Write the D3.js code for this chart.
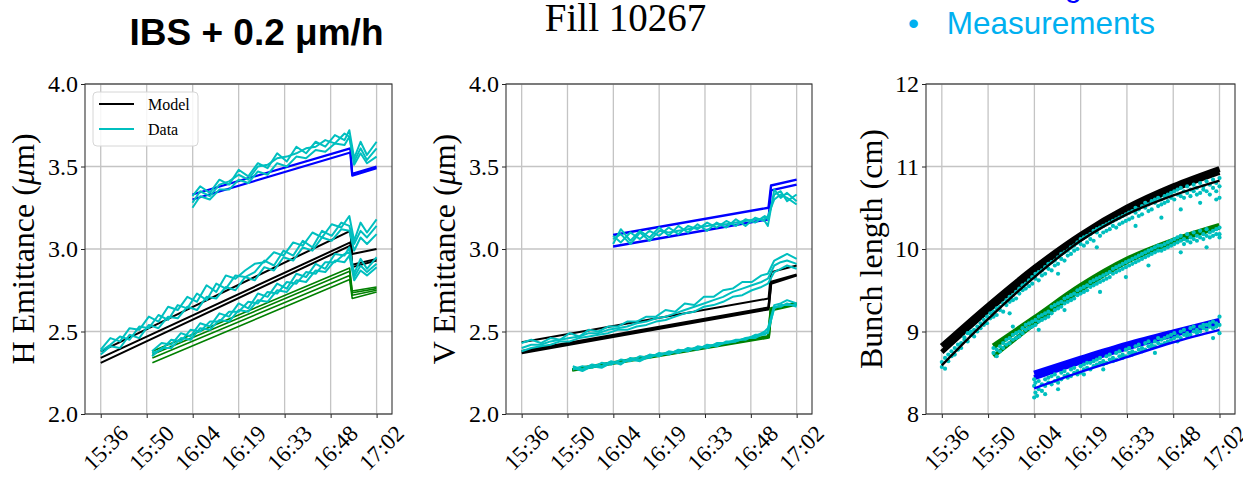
<!DOCTYPE html>
<html><head><meta charset="utf-8">
<script src="https://cdn.jsdelivr.net/npm/d3@7"></script>
<style>body{margin:0;background:#fff}svg{display:block}</style>
</head><body><svg id="c" width="1243" height="483"></svg>
<script>
// ---------- axes / tick data (time in minutes after 15:00) ----------
const timeTicks = [36, 50.33, 64.67, 79, 93.33, 107.67, 122];
const timeTickLabels = ["15:36","15:50","16:04","16:19","16:33","16:48","17:02"];
const emitTicks = [2.0, 2.5, 3.0, 3.5, 4.0];
const bunchTicks = [8, 9, 10, 11, 12];

// ---------- H emittance: model ----------
const hModelK1 = [[36,2.38],[113.8,3.11],[114.4,2.97],[122,3.00]];
const hModelK2 = [[36,2.34],[113.8,3.04],[114.4,2.905],[122,2.94]];
const hModelK3 = [[36,2.31],[113.8,3.02],[114.4,2.89],[122,2.93]];
const hModelG1 = [[52.1,2.38],[113.6,2.885],[114.4,2.745],[122,2.77]];
const hModelG2 = [[52.1,2.36],[113.6,2.865],[114.4,2.735],[122,2.76]];
const hModelG3 = [[52.1,2.34],[113.6,2.84],[114.4,2.72],[122,2.75]];
const hModelG4 = [[52.1,2.31],[113.6,2.815],[114.4,2.70],[122,2.74]];
const hModelB1 = [[64.6,3.33],[113.8,3.61],[114.4,3.455],[122,3.50]];
const hModelB2 = [[64.6,3.30],[113.8,3.585],[114.4,3.445],[122,3.49]];

// ---------- H emittance: data ----------
const hTimesK = [36,39,42,45,48,51,54,57,60,63,66,69,72,75,78,81,84,87,90,93,96,99,102,105,108,111,113.5,115,117,119,122];
const hDataK1 = [2.39,2.46,2.44,2.52,2.51,2.59,2.56,2.65,2.63,2.71,2.68,2.78,2.74,2.84,2.82,2.87,2.91,2.92,2.98,2.96,3.04,3.02,3.10,3.07,3.15,3.13,3.20,3.05,3.16,3.10,3.18];
const hDataK2 = [2.38,2.42,2.47,2.45,2.53,2.52,2.60,2.57,2.66,2.64,2.73,2.69,2.79,2.76,2.84,2.83,2.86,2.93,2.90,2.99,2.96,3.05,3.01,3.11,3.08,3.16,3.14,3.03,3.11,3.07,3.14];
const hDataK3 = [2.36,2.41,2.40,2.48,2.46,2.54,2.52,2.59,2.58,2.65,2.63,2.71,2.70,2.77,2.75,2.83,2.81,2.89,2.87,2.95,2.93,3.01,2.99,3.07,3.05,3.12,3.11,2.99,3.07,3.03,3.09];
const hTimesG = [52,55,58,61,64,67,70,73,76,79,82,85,88,91,94,97,100,103,106,109,112,113.5,115,117,119,122];
const hDataG1 = [2.38,2.43,2.42,2.49,2.47,2.55,2.53,2.61,2.59,2.67,2.64,2.73,2.71,2.79,2.76,2.85,2.83,2.91,2.88,2.97,2.96,3.01,2.85,2.94,2.88,2.95];
const hDataG2 = [2.37,2.39,2.45,2.44,2.51,2.50,2.56,2.56,2.62,2.62,2.68,2.67,2.74,2.73,2.80,2.79,2.86,2.85,2.92,2.92,2.97,2.98,2.83,2.90,2.86,2.91];
const hDataG3 = [2.35,2.40,2.40,2.46,2.45,2.52,2.51,2.57,2.56,2.63,2.62,2.69,2.68,2.75,2.74,2.81,2.80,2.87,2.86,2.93,2.92,2.96,2.81,2.87,2.84,2.89];
const hTimesB = [64.6,67,70,73,76,79,82,85,88,91,94,97,100,103,106,109,112,113.5,115,117,119,122];
const hDataB1 = [3.32,3.38,3.34,3.42,3.39,3.48,3.44,3.52,3.49,3.58,3.53,3.62,3.58,3.65,3.62,3.69,3.66,3.72,3.55,3.65,3.57,3.65];
const hDataB2 = [3.28,3.35,3.32,3.39,3.41,3.45,3.42,3.50,3.51,3.55,3.56,3.58,3.61,3.62,3.66,3.64,3.70,3.68,3.53,3.61,3.54,3.61];
const hDataB3 = [3.25,3.32,3.30,3.36,3.36,3.42,3.40,3.47,3.45,3.52,3.50,3.56,3.55,3.60,3.59,3.64,3.63,3.68,3.51,3.58,3.52,3.56];

// ---------- V emittance: model ----------
const vModelB1 = [[64.6,3.085],[113.2,3.25],[114.0,3.385],[122,3.42]];
const vModelB2 = [[64.6,3.015],[113.2,3.18],[114.0,3.355],[122,3.39]];
const vModelK1 = [[36,2.435],[113.2,2.70],[114.0,2.86],[122,2.90]];
const vModelK2 = [[36,2.38],[113.2,2.645],[114.0,2.80],[122,2.845]];
const vModelK3 = [[36,2.37],[113.2,2.635],[114.0,2.79],[122,2.84]];
const vModelG1 = [[51.8,2.265],[113.2,2.465],[114.0,2.63],[122,2.665]];
const vModelG2 = [[51.8,2.27],[113.2,2.47],[114.0,2.64],[122,2.67]];

// ---------- V emittance: data ----------
const vTimesK = [36,39,42,45,48,51,54,57,60,63,66,69,72,75,78,81,84,87,90,93,96,99,102,105,108,111,113,115,117,119,122];
const vDataK1 = [2.43,2.45,2.43,2.46,2.45,2.49,2.47,2.51,2.50,2.53,2.53,2.56,2.56,2.59,2.59,2.63,2.62,2.67,2.66,2.71,2.71,2.75,2.76,2.80,2.80,2.84,2.85,2.93,2.95,2.97,2.94];
const vDataK2 = [2.40,2.42,2.42,2.44,2.45,2.46,2.47,2.49,2.49,2.51,2.52,2.53,2.55,2.56,2.58,2.59,2.61,2.63,2.65,2.67,2.69,2.71,2.74,2.76,2.78,2.80,2.82,2.90,2.92,2.93,2.91];
const vDataK3 = [2.38,2.40,2.41,2.42,2.44,2.44,2.46,2.47,2.48,2.49,2.51,2.51,2.53,2.54,2.56,2.57,2.59,2.61,2.62,2.65,2.66,2.68,2.71,2.72,2.75,2.77,2.79,2.86,2.88,2.90,2.88];
const vTimesG = [52,55,58,61,64,67,70,73,76,79,82,85,88,91,94,97,100,103,106,109,112,113,115,117,119,122];
const vDataG1 = [2.29,2.27,2.30,2.29,2.32,2.30,2.34,2.33,2.36,2.35,2.38,2.37,2.40,2.39,2.42,2.41,2.44,2.44,2.46,2.47,2.50,2.52,2.66,2.67,2.69,2.67];
const vDataG2 = [2.27,2.29,2.28,2.31,2.30,2.33,2.32,2.35,2.34,2.37,2.36,2.39,2.38,2.41,2.40,2.43,2.43,2.45,2.45,2.48,2.48,2.50,2.64,2.66,2.66,2.66];
const vDataG3 = [2.28,2.26,2.29,2.28,2.31,2.31,2.33,2.32,2.35,2.36,2.37,2.38,2.39,2.40,2.41,2.42,2.43,2.44,2.46,2.46,2.49,2.49,2.65,2.65,2.67,2.65];
const vTimesB = [64.6,67,70,73,76,79,82,85,88,91,94,97,100,103,106,109,112,113,115,117,119,122];
const vDataB1 = [3.03,3.12,3.05,3.11,3.07,3.13,3.08,3.14,3.10,3.15,3.11,3.16,3.13,3.18,3.14,3.19,3.17,3.14,3.36,3.31,3.34,3.29];
const vDataB2 = [3.08,3.04,3.10,3.06,3.11,3.08,3.13,3.09,3.14,3.12,3.16,3.13,3.17,3.14,3.18,3.16,3.20,3.18,3.33,3.35,3.29,3.33];
const vDataB3 = [3.06,3.09,3.03,3.10,3.05,3.11,3.10,3.11,3.12,3.13,3.14,3.15,3.15,3.16,3.17,3.18,3.18,3.20,3.30,3.33,3.31,3.27];

// ---------- Bunch length: model ----------
const bModelK1 = [[36,8.82],[50.3,9.31],[64.7,9.77],[79,10.17],[93.3,10.50],[107.7,10.76],[122,10.97]];
const bModelK2 = [[36,8.75],[50.3,9.25],[64.7,9.71],[79,10.12],[93.3,10.46],[107.7,10.72],[122,10.93]];
const bModelK3 = [[36,8.59],[50.3,9.15],[64.7,9.66],[79,10.10],[93.3,10.42],[107.7,10.65],[122,10.83]];
const bModelG1 = [[52,8.82],[64.7,9.16],[79,9.55],[93.3,9.87],[107.7,10.10],[122,10.28]];
const bModelG2 = [[52,8.70],[64.7,9.09],[79,9.50],[93.3,9.84],[107.7,10.08],[122,10.26]];
const bModelB1 = [[64.6,8.49],[79,8.67],[93.3,8.84],[107.7,8.99],[122,9.13]];
const bModelB2 = [[64.6,8.44],[79,8.63],[93.3,8.80],[107.7,8.96],[122,9.10]];
const bModelB3 = [[64.6,8.31],[79,8.51],[93.3,8.69],[107.7,8.87],[122,9.02]];

// ---------- Bunch length: measurements ----------
const bMeasK = [[36,8.57],[36,8.63],[37,8.55],[37,8.68],[38,8.72],[38,8.64],[39,8.70],[39,8.76],[40,8.80],[40,8.72],[41,8.84],[41,8.78],[42,8.86],[42,8.80],[43,8.90],[43,8.93],[44,8.88],[44,8.98],[45,8.96],[45,9.00],[46,9.02],[46,8.94],[47,9.06],[47,9.00],[48,9.10],[48,9.04],[49,9.08],[49,9.14],[50,9.18],[50,9.10],[51,9.16],[51,9.22],[52,9.24],[52,9.18],[53,9.20],[53,9.28],[54,9.30],[54,9.26],[55,9.34],[55,9.24],[56,9.38],[56,9.32],[57,9.36],[57,9.42],[58,9.44],[58,9.38],[59,9.48],[59,9.40],[60,9.52],[60,9.46],[61,9.50],[61,9.56],[62,9.58],[62,9.52],[63,9.62],[63,9.55],[64,9.66],[64,9.58],[65,9.64],[65,9.70],[66,9.72],[66,9.62],[67,9.74],[67,9.68],[68,9.78],[68,9.70],[69,9.76],[69,9.82],[70,9.84],[70,9.74],[71,9.86],[71,9.80],[72,9.90],[72,9.82],[73,9.88],[73,9.94],[74,9.96],[74,9.86],[75,9.98],[75,9.92],[76,10.02],[76,9.94],[77,10.04],[77,9.98],[78,10.08],[78,10.00],[79,10.06],[79,10.12],[80,10.14],[80,10.04],[81,10.16],[81,10.08],[82,10.18],[82,10.12],[83,10.22],[83,10.10],[84,10.20],[84,10.24],[85,10.26],[85,10.16],[86,10.28],[86,10.20],[87,10.30],[87,10.22],[88,10.32],[88,10.24],[89,10.34],[89,10.28],[90,10.36],[90,10.26],[91,10.38],[91,10.30],[92,10.40],[92,10.32],[93,10.42],[93,10.34],[94,10.44],[94,10.36],[95,10.46],[95,10.38],[96,10.44],[96,10.50],[97,10.48],[97,10.40],[98,10.52],[98,10.42],[99,10.50],[99,10.56],[100,10.54],[100,10.46],[101,10.58],[101,10.48],[102,10.56],[102,10.60],[103,10.62],[103,10.52],[104,10.60],[104,10.54],[105,10.64],[105,10.56],[106,10.66],[106,10.58],[107,10.62],[107,10.68],[108,10.70],[108,10.60],[109,10.66],[109,10.72],[110,10.74],[110,10.64],[111,10.70],[111,10.62],[112,10.76],[112,10.68],[113,10.72],[113,10.64],[114,10.78],[114,10.70],[115,10.74],[115,10.66],[116,10.80],[116,10.68],[117,10.76],[117,10.72],[118,10.70],[118,10.82],[119,10.78],[119,10.66],[120,10.74],[120,10.84],[121,10.80],[121,10.70],[122,10.62],[122,10.76],[122,10.86],[57,9.22],[72,9.70],[84,10.02],[96,10.28],[104,10.38],[110,10.48],[116,10.56],[121,10.60]];
const bMeasG = [[52,8.74],[52,8.80],[53,8.70],[53,8.78],[54,8.82],[54,8.76],[55,8.86],[55,8.80],[56,8.84],[56,8.90],[57,8.92],[57,8.86],[58,8.90],[58,8.96],[59,8.98],[59,8.92],[60,9.00],[60,8.94],[61,9.04],[61,8.98],[62,9.02],[62,9.08],[63,9.10],[63,9.04],[64,9.12],[64,9.06],[65,9.14],[65,9.08],[66,9.12],[66,9.18],[67,9.20],[67,9.14],[68,9.22],[68,9.16],[69,9.24],[69,9.18],[70,9.22],[70,9.30],[71,9.32],[71,9.26],[72,9.34],[72,9.28],[73,9.36],[73,9.30],[74,9.34],[74,9.40],[75,9.42],[75,9.36],[76,9.44],[76,9.38],[77,9.46],[77,9.40],[78,9.44],[78,9.50],[79,9.52],[79,9.46],[80,9.54],[80,9.48],[81,9.56],[81,9.50],[82,9.54],[82,9.60],[83,9.62],[83,9.56],[84,9.64],[84,9.58],[85,9.60],[85,9.66],[86,9.68],[86,9.62],[87,9.70],[87,9.64],[88,9.72],[88,9.66],[89,9.70],[89,9.76],[90,9.78],[90,9.72],[91,9.80],[91,9.74],[92,9.76],[92,9.82],[93,9.84],[93,9.78],[94,9.86],[94,9.80],[95,9.82],[95,9.88],[96,9.90],[96,9.84],[97,9.86],[97,9.92],[98,9.94],[98,9.88],[99,9.90],[99,9.96],[100,9.98],[100,9.92],[101,9.94],[101,10.00],[102,10.02],[102,9.96],[103,9.98],[103,10.04],[104,10.04],[104,9.98],[105,10.06],[105,10.00],[106,10.02],[106,10.08],[107,10.10],[107,10.04],[108,10.06],[108,10.12],[109,10.14],[109,10.08],[110,10.10],[110,10.16],[111,10.12],[111,10.06],[112,10.18],[112,10.10],[113,10.14],[113,10.08],[114,10.20],[114,10.12],[115,10.16],[115,10.10],[116,10.22],[116,10.14],[117,10.18],[117,10.12],[118,10.24],[118,10.16],[119,10.20],[119,10.14],[120,10.22],[120,10.16],[121,10.24],[121,10.18],[122,10.26],[122,10.18],[122,10.14],[58,9.06],[66,9.02],[74,9.26],[85,9.48],[93,9.66],[100,9.80],[110,9.96],[118,10.02]];
const bMeasB = [[64.6,8.20],[64.6,8.34],[64.6,8.42],[65,8.26],[65,8.38],[66,8.30],[66,8.40],[67,8.36],[67,8.28],[68,8.42],[68,8.34],[69,8.38],[69,8.44],[70,8.46],[70,8.36],[71,8.40],[71,8.48],[72,8.44],[72,8.38],[73,8.50],[73,8.42],[74,8.46],[74,8.52],[75,8.48],[75,8.44],[76,8.54],[76,8.46],[77,8.50],[77,8.56],[78,8.52],[78,8.48],[79,8.58],[79,8.50],[80,8.54],[80,8.60],[81,8.56],[81,8.62],[82,8.62],[82,8.54],[83,8.58],[83,8.64],[84,8.66],[84,8.60],[85,8.62],[85,8.68],[86,8.64],[86,8.60],[87,8.70],[87,8.62],[88,8.66],[88,8.72],[89,8.68],[89,8.64],[90,8.74],[90,8.66],[91,8.70],[91,8.76],[92,8.72],[92,8.68],[93,8.78],[93,8.70],[94,8.74],[94,8.80],[95,8.76],[95,8.72],[96,8.82],[96,8.74],[97,8.78],[97,8.84],[98,8.80],[98,8.76],[99,8.86],[99,8.78],[100,8.82],[100,8.88],[101,8.84],[101,8.80],[102,8.88],[102,8.82],[103,8.86],[103,8.92],[104,8.90],[104,8.84],[105,8.92],[105,8.86],[106,8.88],[106,8.94],[107,8.96],[107,8.90],[108,8.92],[108,8.98],[109,8.94],[109,8.88],[110,9.00],[110,8.92],[111,8.96],[111,9.02],[112,8.98],[112,8.94],[113,9.04],[113,8.96],[114,9.00],[114,9.06],[115,9.02],[115,8.98],[116,9.06],[116,9.00],[117,9.04],[117,9.08],[118,9.08],[118,9.02],[119,9.06],[119,9.10],[120,9.04],[120,9.12],[121,9.10],[121,9.06],[122,9.18],[122,9.08],[122,8.98],[65.5,8.22],[68,8.24],[72,8.30],[80,8.48],[86,8.54],[102,8.74],[120,8.92]];

// ---------- colours ----------
const C = {black:"#000000", green:"#008000", blue:"#0000ff", cyan:"#00bfbf"};

const svg = d3.select("#c");
const FS = "'Liberation Serif','Times New Roman',serif";
const SS = "'Liberation Sans',Arial,sans-serif";
const tDomain = [31.1, 126.8];

function panel(p) {
  const x = d3.scaleLinear().domain(tDomain).range([p.x0, p.x1]);
  const y = d3.scaleLinear().domain(p.yDomain).range([p.y1, p.y0]);
  const g = svg.append("g");
  g.append("g").selectAll("line").data(timeTicks).join("line")
    .attr("x1", d => x(d)).attr("x2", d => x(d)).attr("y1", p.y0).attr("y2", p.y1)
    .attr("stroke", "#c4c4c4").attr("stroke-width", 1.3);
  g.append("g").selectAll("line").data(p.yTicks).join("line")
    .attr("y1", d => y(d)).attr("y2", d => y(d)).attr("x1", p.x0).attr("x2", p.x1)
    .attr("stroke", "#c4c4c4").attr("stroke-width", 1.3);
  const ax = g.append("g").attr("transform", `translate(0,${p.y1})`)
    .call(d3.axisBottom(x).tickValues(timeTicks).tickSize(4).tickFormat(""));
  ax.select(".domain").remove();
  ax.selectAll("line").attr("stroke", "#222");
  const ay = g.append("g").attr("transform", `translate(${p.x0},0)`)
    .call(d3.axisLeft(y).tickValues(p.yTicks).tickSize(4).tickFormat(""));
  ay.select(".domain").remove();
  ay.selectAll("line").attr("stroke", "#222");
  g.append("g").selectAll("text").data(timeTicks).join("text")
    .attr("transform", d => `translate(${x(d) + 5},${p.y1 + 34}) rotate(-45)`)
    .attr("text-anchor", "middle").attr("dominant-baseline", "central")
    .attr("font-family", FS).attr("font-size", 23).attr("fill", "#000")
    .text((d, i) => timeTickLabels[i]);
  g.append("g").selectAll("text").data(p.yTicks).join("text")
    .attr("x", p.x0 - 7).attr("y", d => y(d)).attr("text-anchor", "end")
    .attr("dominant-baseline", "central")
    .attr("font-family", FS).attr("font-size", 24).attr("fill", "#000")
    .text(d => p.yFmt(d));
  const yl = g.append("text")
    .attr("transform", `translate(${p.ylx},${(p.y0 + p.y1) / 2}) rotate(-90)`)
    .attr("text-anchor", "middle").attr("font-family", FS).attr("font-size", 32).attr("fill", "#000");
  p.ylabel(yl);
  const cid = "clip" + p.id;
  svg.append("clipPath").attr("id", cid).append("rect")
    .attr("x", p.x0).attr("y", p.y0).attr("width", p.x1 - p.x0).attr("height", p.y1 - p.y0);
  const plot = g.append("g").attr("clip-path", `url(#${cid})`);
  const line = d3.line().x(d => x(d[0])).y(d => y(d[1]));
  const smooth = d3.line().x(d => x(d[0])).y(d => y(d[1])).curve(d3.curveMonotoneX);
  (p.models || []).forEach(m => {
    plot.append("path").datum(m.d).attr("d", m.smooth ? smooth : line)
      .attr("fill", "none").attr("stroke", m.c).attr("stroke-width", m.w)
      .attr("stroke-linejoin", "round");
  });
  (p.data || []).forEach(s => {
    plot.append("path").datum(d3.zip(s.t, s.v)).attr("d", line)
      .attr("fill", "none").attr("stroke", C.cyan).attr("stroke-width", 2)
      .attr("stroke-linejoin", "round");
  });
  (p.dots || []).forEach(ds => {
    plot.append("g").selectAll("circle").data(ds).join("circle")
      .attr("cx", d => x(d[0])).attr("cy", d => y(d[1])).attr("r", 2.1)
      .attr("fill", C.cyan);
  });
  (p.modelsTop || []).forEach(m => {
    plot.append("path").datum(m.d).attr("d", smooth)
      .attr("fill", "none").attr("stroke", m.c).attr("stroke-width", m.w);
  });
  g.append("rect").attr("x", p.x0).attr("y", p.y0).attr("width", p.x1 - p.x0).attr("height", p.y1 - p.y0)
    .attr("fill", "none").attr("stroke", "#333").attr("stroke-width", 1.1);
  return {x, y, g};
}

const f1 = d3.format(".1f"), f0 = d3.format("d");

const P1 = panel({
  id: 1, x0: 85, x1: 392, y0: 84, y1: 414, yDomain: [2, 4], yTicks: emitTicks, yFmt: f1, ylx: 34,
  ylabel: t => { t.append("tspan").text("H Emittance ("); t.append("tspan").attr("font-style", "italic").text("μ"); t.append("tspan").text("m)"); },
  models: [
    {d: hModelK1, c: C.black, w: 2}, {d: hModelK2, c: C.black, w: 2}, {d: hModelK3, c: C.black, w: 2},
    {d: hModelG1, c: C.green, w: 1.6}, {d: hModelG2, c: C.green, w: 1.6}, {d: hModelG3, c: C.green, w: 1.6}, {d: hModelG4, c: C.green, w: 1.6},
    {d: hModelB1, c: C.blue, w: 2.2}, {d: hModelB2, c: C.blue, w: 2.2}
  ],
  data: [
    {t: hTimesK, v: hDataK1}, {t: hTimesK, v: hDataK2}, {t: hTimesK, v: hDataK3},
    {t: hTimesG, v: hDataG1}, {t: hTimesG, v: hDataG2}, {t: hTimesG, v: hDataG3},
    {t: hTimesB, v: hDataB1}, {t: hTimesB, v: hDataB2}, {t: hTimesB, v: hDataB3}
  ]
});

panel({
  id: 2, x0: 506, x1: 812, y0: 84, y1: 414, yDomain: [2, 4], yTicks: emitTicks, yFmt: f1, ylx: 455,
  ylabel: t => { t.append("tspan").text("V Emittance ("); t.append("tspan").attr("font-style", "italic").text("μ"); t.append("tspan").text("m)"); },
  models: [
    {d: vModelB1, c: C.blue, w: 2.4}, {d: vModelB2, c: C.blue, w: 2.4},
    {d: vModelK1, c: C.black, w: 2}, {d: vModelK2, c: C.black, w: 2.4}, {d: vModelK3, c: C.black, w: 2.4},
    {d: vModelG1, c: C.green, w: 3}, {d: vModelG2, c: C.green, w: 3}
  ],
  data: [
    {t: vTimesK, v: vDataK1}, {t: vTimesK, v: vDataK2}, {t: vTimesK, v: vDataK3},
    {t: vTimesG, v: vDataG1}, {t: vTimesG, v: vDataG2}, {t: vTimesG, v: vDataG3},
    {t: vTimesB, v: vDataB1}, {t: vTimesB, v: vDataB2}, {t: vTimesB, v: vDataB3}
  ]
});

panel({
  id: 3, x0: 926, x1: 1235, y0: 84, y1: 414, yDomain: [8, 12], yTicks: bunchTicks, yFmt: f0, ylx: 882,
  ylabel: t => t.text("Bunch length (cm)"),
  models: [
    {d: bModelK1, c: C.black, w: 6, smooth: true}, {d: bModelK2, c: C.black, w: 5, smooth: true},
    {d: bModelG1, c: C.green, w: 6, smooth: true}, {d: bModelG2, c: C.green, w: 4, smooth: true},
    {d: bModelB1, c: C.blue, w: 6, smooth: true}, {d: bModelB2, c: C.blue, w: 5, smooth: true}
  ],
  dots: [bMeasK, bMeasG, bMeasB],
  modelsTop: [
    {d: bModelK3, c: C.black, w: 2.4}, {d: bModelB3, c: C.blue, w: 2.4}
  ]
});

// legend in panel 1
const lg = P1.g.append("g");
lg.append("rect").attr("x", 93).attr("y", 92).attr("width", 105).attr("height", 54).attr("rx", 4)
  .attr("fill", "#fff").attr("fill-opacity", 0.85).attr("stroke", "#d6d6d6").attr("stroke-width", 1);
[["Model", C.black, 104], ["Data", C.cyan, 129]].forEach(([lab, col, yy]) => {
  lg.append("line").attr("x1", 99).attr("x2", 134).attr("y1", yy).attr("y2", yy).attr("stroke", col).attr("stroke-width", 2);
  lg.append("text").attr("x", 148).attr("y", yy + 6).attr("font-family", FS).attr("font-size", 16).text(lab);
});

// titles
svg.append("text").attr("x", 256.5).attr("y", 45).attr("text-anchor", "middle")
  .attr("font-family", SS).attr("font-weight", "bold").attr("font-size", 37).text("IBS + 0.2 μm/h");
svg.append("text").attr("x", 625.5).attr("y", 31).attr("text-anchor", "middle")
  .attr("font-family", FS).attr("font-size", 39).text("Fill 10267");
svg.append("text").attr("x", 1082).attr("y", -4).attr("text-anchor", "end")
  .attr("font-family", SS).attr("font-size", 31.5).attr("fill", "#0000ff").text("Tracking");
svg.append("text").attr("x", 908).attr("y", 34)
  .attr("font-family", SS).attr("font-size", 31.5).attr("fill", "#00b0f0").text("•");
svg.append("text").attr("x", 946.7).attr("y", 34)
  .attr("font-family", SS).attr("font-size", 31.5).attr("fill", "#00b0f0").text("Measurements");
</script></body></html>
